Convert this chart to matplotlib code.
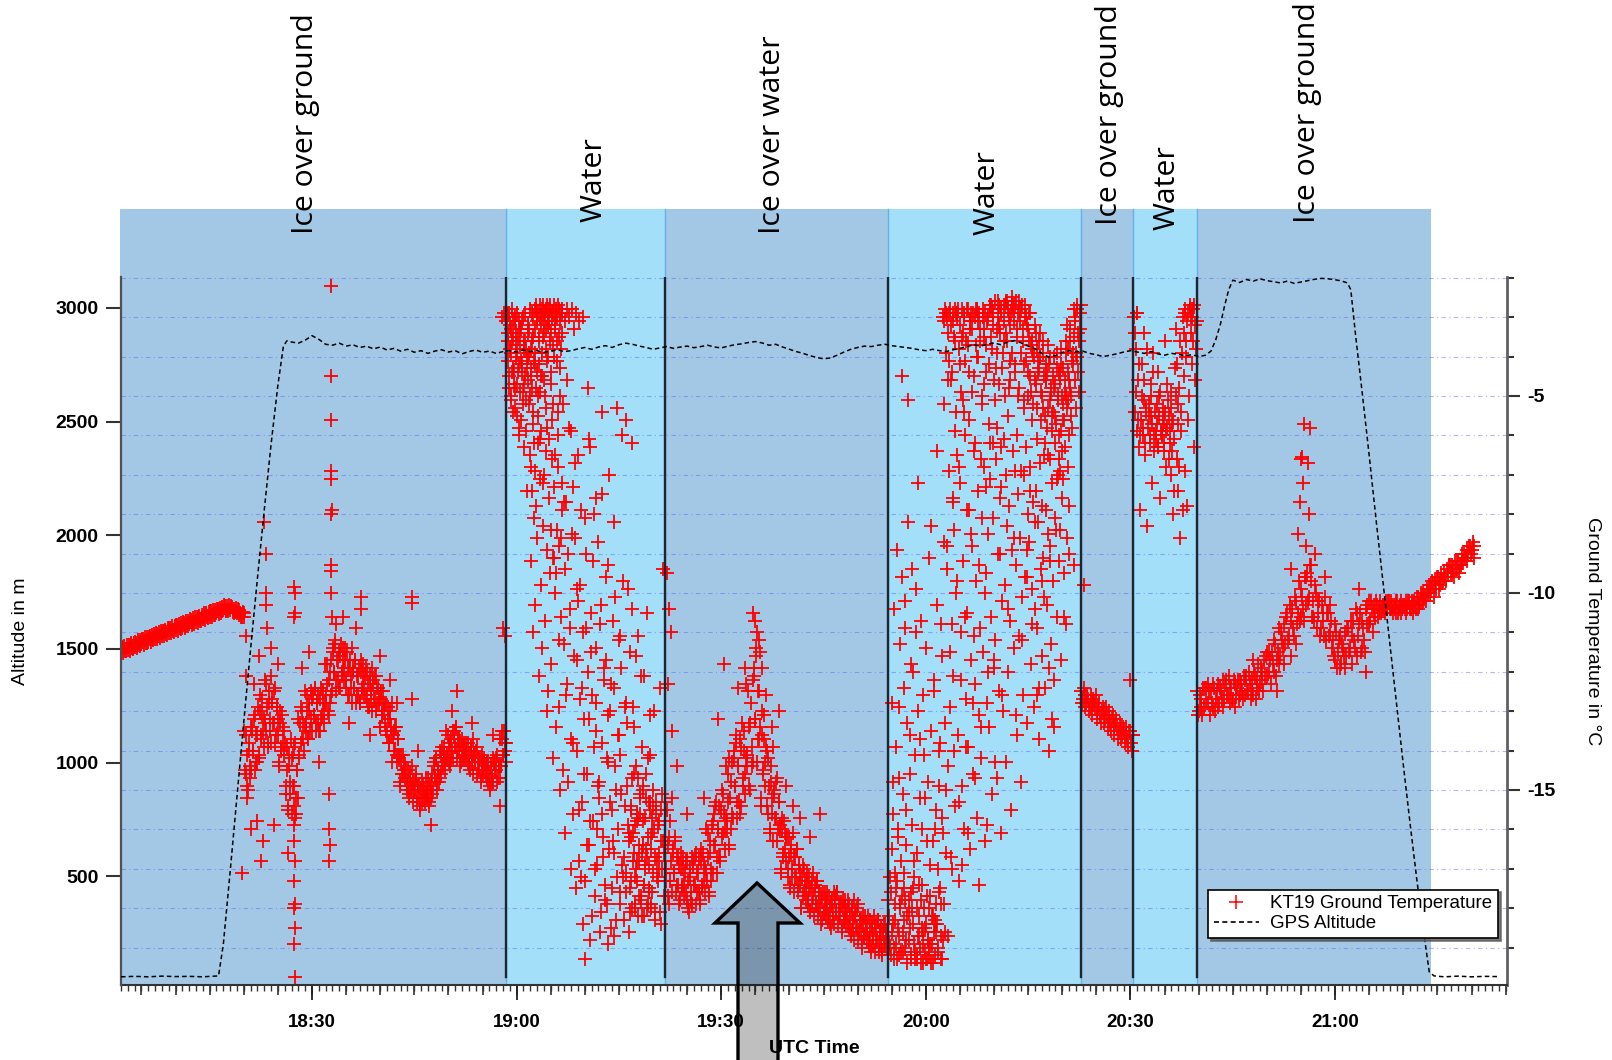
import numpy as np
import matplotlib
matplotlib.use("Agg")
import matplotlib.pyplot as plt
from matplotlib.patches import Rectangle, Polygon
from matplotlib.lines import Line2D
from matplotlib.ticker import MultipleLocator, FixedLocator, FuncFormatter
from matplotlib.transforms import blended_transform_factory

##############################################################################
# Data (time = minutes after 18:00 UTC)

x_limits = (2.0, 205.2)
alt_limits = (22, 3136)
temp_limits = (-19.95, -1.98)

surface_edges = [1.8, 58.5, 81.7, 114.4, 142.7, 150.4, 159.7, 194.1]
surface_names = ["Ice over ground", "Water", "Ice over water", "Water",
                 "Ice over ground", "Water", "Ice over ground"]

time_ticks = [30, 60, 90, 120, 150, 180]

# GPS altitude (m)
gps_time = [2, 4, 6, 8, 10, 12, 14, 16.3, 17, 18, 19, 20, 21, 22, 23, 24, 25, 25.8, 26.3] \
    + list(range(27, 162)) \
    + [161.8, 162.5, 163.2, 163.8, 164.4, 165, 166, 167, 168, 169, 170, 171, 172, 173, 174,
       175, 176, 177, 178, 179, 180, 181, 181.8, 182.3, 183, 184, 185, 186, 187, 188, 189,
       190, 191, 192, 193, 193.8, 194.5, 196, 198, 200, 202, 203.8]
gps_alt = [58, 60, 58, 61, 59, 60, 58, 62, 200, 520, 850, 1180, 1500, 1810, 2110, 2400, 2660, 2830, 2855,
           2850, 2845, 2858, 2878, 2862, 2840, 2836, 2845, 2832, 2838, 2826, 2832, 2820, 2828, 2815,
           2822, 2810, 2818, 2805, 2812, 2800, 2810, 2816, 2806, 2812, 2798, 2808, 2815, 2805, 2810,
           2800, 2808, 2812, 2806, 2815, 2808, 2812, 2804, 2810, 2816, 2808, 2812, 2820, 2826, 2818,
           2828, 2834, 2826, 2838, 2845, 2840, 2832, 2826, 2818, 2824, 2830, 2822, 2828, 2832, 2825,
           2830, 2836, 2828, 2824, 2832, 2838, 2842, 2848, 2852, 2846, 2836, 2840, 2828, 2818, 2808,
           2800, 2790, 2782, 2776, 2780, 2792, 2806, 2818, 2826, 2832, 2830, 2836, 2840, 2834, 2830,
           2826, 2822, 2816, 2812, 2818, 2812, 2808, 2816, 2822, 2830, 2838, 2832, 2840, 2846, 2838,
           2850, 2856, 2846, 2832, 2820, 2800, 2784, 2790, 2804, 2812, 2806, 2810, 2800, 2794, 2786,
           2792, 2798, 2806, 2812, 2806, 2800, 2808, 2798, 2792, 2800, 2796, 2790, 2794, 2786, 2792,
           2810, 2860, 2930, 3010, 3080, 3122, 3112, 3125, 3118, 3128, 3120, 3115, 3110, 3118, 3108,
           3114, 3120, 3126, 3130, 3128, 3124, 3118, 3110, 3080, 2880, 2620, 2350, 2070, 1800, 1530,
           1260, 990, 730, 480, 250, 80, 62, 58, 61, 58, 60, 59]

# KT19 ground temperature (deg C), regularly sampled within each span
ramp_span = (2.0, 20.0)
kt19_ramp = [-11.50, -11.40, -11.35, -11.48, -11.45, -11.33, -11.28, -11.42, -11.38, -11.26,
             -11.20, -11.35, -11.30, -11.18, -11.12, -11.27, -11.25, -11.10, -11.06, -11.20,
             -11.16, -11.03, -10.98, -11.13, -11.10, -10.96, -10.93, -11.06, -11.02, -10.88,
             -10.85, -10.99, -10.95, -10.82, -10.78, -10.92, -10.88, -10.75, -10.72, -10.85,
             -10.80, -10.68, -10.64, -10.78, -10.74, -10.61, -10.58, -10.70, -10.66, -10.54,
             -10.50, -10.63, -10.60, -10.47, -10.44, -10.56, -10.52, -10.41, -10.38, -10.47,
             -10.44, -10.33, -10.34, -10.45, -10.42, -10.36, -10.40, -10.49, -10.52, -10.44,
             -10.50, -10.60, -10.62]
ramp2_span = (2.1, 20.1)
kt19_ramp2 = [-11.36, -11.52, -11.47, -11.32, -11.31, -11.47, -11.40, -11.26, -11.24, -11.40,
              -11.32, -11.19, -11.16, -11.31, -11.26, -11.11, -11.11, -11.24, -11.18, -11.04,
              -11.02, -11.17, -11.10, -10.97, -10.96, -11.10, -11.05, -10.90, -10.88, -11.02,
              -10.97, -10.83, -10.81, -10.96, -10.90, -10.76, -10.74, -10.89, -10.84, -10.70,
              -10.66, -10.82, -10.76, -10.62, -10.60, -10.75, -10.70, -10.56, -10.52, -10.68,
              -10.62, -10.49, -10.46, -10.60, -10.56, -10.42, -10.40, -10.54, -10.50, -10.35,
              -10.30, -10.46, -10.44, -10.30, -10.32, -10.48, -10.52, -10.38, -10.40, -10.56,
              -10.62, -10.48, -10.52]

ground1_span = (20.1, 58.4)
kt19_ground1 = [
    -13.5, -14.6, -14.1, -15.0, -13.8, -14.4, -14.5, -13.4, -14.0, -13.1, -14.3, -13.6,
    -12.9, -14.1, -12.6, -13.6, -13.1, -13.9, -12.2, -13.5, -12.9, -13.9, -12.5, -13.2,
    -13.8, -12.7, -13.3, -12.4, -13.6, -12.9, -13.2, -14.3, -13.0, -13.9, -13.4, -14.1,
    -13.8, -15.1, -14.5, -15.5, -14.1, -14.8, -15.6, -14.1, -14.9, -13.8, -15.2, -14.5,
    -13.2, -14.1, -12.9, -13.7, -13.3, -14.0, -12.5, -13.5, -13.0, -13.7, -12.8, -13.2,
    -13.5, -12.6, -13.1, -12.4, -13.3, -12.8, -12.6, -13.5, -12.4, -13.1, -12.8, -13.3,
    -11.8, -12.8, -12.3, -13.1, -12.0, -12.6, -12.5, -11.4, -12.0, -11.2, -12.2, -11.7,
    -11.5, -12.4, -11.3, -12.0, -11.7, -12.2, -11.4, -12.4, -11.9, -12.6, -11.7, -12.1,
    -12.8, -11.9, -12.4, -11.7, -12.6, -12.1, -11.9, -12.8, -11.7, -12.4, -12.1, -12.6,
    -11.9, -12.7, -12.3, -12.9, -12.1, -12.5, -13.0, -12.2, -12.7, -12.1, -12.8, -12.4,
    -12.7, -13.4, -12.5, -13.1, -12.8, -13.3, -12.8, -13.6, -13.2, -13.8, -13.0, -13.4,
    -14.3, -13.5, -14.0, -13.4, -14.1, -13.7, -14.2, -14.8, -14.1, -14.6, -14.3, -14.7,
    -14.5, -15.0, -14.8, -15.2, -14.6, -14.9, -15.3, -14.8, -15.0, -14.6, -15.2, -14.9,
    -14.9, -15.4, -14.8, -15.2, -15.0, -15.3, -14.7, -15.2, -15.0, -15.4, -14.8, -15.1,
    -15.0, -14.3, -14.7, -14.2, -14.8, -14.5, -14.0, -14.6, -13.9, -14.4, -14.1, -14.5,
    -13.5, -14.2, -13.9, -14.4, -13.7, -14.0, -14.2, -13.5, -13.9, -13.4, -14.0, -13.7,
    -13.8, -14.3, -13.7, -14.1, -13.9, -14.2, -13.8, -14.3, -14.1, -14.5, -13.9, -14.2,
    -14.6, -14.1, -14.3, -13.9, -14.5, -14.2, -14.2, -14.7, -14.1, -14.5, -14.3, -14.6,
    -14.3, -14.8, -14.6, -15.0, -14.4, -14.7, -14.8, -14.3, -14.5, -14.1, -14.7, -14.4,
    -13.7, -14.4, -13.5, -14.1, -13.8, -14.3]
ground1b_span = (20.2, 58.5)
kt19_ground1b = [
    -14.5, -13.6, -14.9, -14.0, -14.7, -13.4, -13.5, -14.0, -13.2, -14.5, -13.6, -14.3,
    -14.2, -13.0, -13.7, -12.7, -13.5, -13.2, -13.3, -12.3, -13.8, -12.8, -13.5, -12.1,
    -12.8, -13.3, -12.5, -13.8, -12.9, -13.6, -14.4, -13.3, -14.0, -13.1, -13.8, -13.5,
    -14.9, -13.9, -15.4, -14.4, -15.1, -13.7, -14.2, -14.9, -13.9, -15.6, -14.5, -15.2,
    -14.2, -13.3, -13.8, -13.0, -13.7, -13.4, -13.3, -12.6, -13.7, -13.0, -13.5, -12.5,
    -12.7, -13.1, -12.4, -13.5, -12.8, -13.3, -13.5, -12.7, -13.2, -12.5, -13.0, -12.8,
    -12.6, -11.8, -13.0, -12.2, -12.8, -11.7, -11.5, -12.0, -11.3, -12.5, -11.7, -12.2,
    -12.4, -11.6, -12.1, -11.4, -11.9, -11.7, -12.2, -11.5, -12.6, -11.9, -12.4, -11.4,
    -12.0, -12.4, -11.7, -12.8, -12.1, -12.6, -12.8, -12.0, -12.5, -11.8, -12.3, -12.1,
    -12.6, -12.0, -12.9, -12.3, -12.7, -11.9, -12.3, -12.7, -12.1, -13.0, -12.4, -12.8,
    -13.4, -12.7, -13.1, -12.5, -13.0, -12.8, -13.5, -12.9, -13.8, -13.2, -13.6, -12.8,
    -13.6, -14.0, -13.4, -14.3, -13.7, -14.1, -14.9, -14.3, -14.6, -14.1, -14.5, -14.4,
    -14.9, -14.5, -15.1, -14.7, -15.0, -14.4, -14.8, -15.0, -14.7, -15.3, -14.9, -15.2,
    -15.5, -15.0, -15.3, -14.9, -15.2, -15.1, -15.1, -14.7, -15.3, -14.9, -15.2, -14.6,
    -14.4, -14.7, -14.2, -15.0, -14.5, -14.8, -14.7, -14.1, -14.4, -13.9, -14.3, -14.2,
    -14.1, -13.6, -14.3, -13.8, -14.2, -13.5, -13.6, -13.9, -13.4, -14.2, -13.7, -14.0,
    -14.4, -13.9, -14.2, -13.8, -14.1, -14.0, -14.2, -13.8, -14.4, -14.0, -14.3, -13.7,
    -14.1, -14.3, -14.0, -14.6, -14.2, -14.5, -14.8, -14.3, -14.6, -14.2, -14.5, -14.4,
    -14.7, -14.3, -14.9, -14.5, -14.8, -14.2, -14.3, -14.5, -14.2, -14.8, -14.4, -14.7,
    -14.4, -13.7, -14.1, -13.5, -14.0, -13.8]

water1a_span = (58.6, 66.6)
kt19_water1a = [
    -3.0, -4.1, -3.4, -4.8, -2.9, -3.8, -5.0, -3.3, -4.4, -3.6, -5.4, -3.1,
    -4.4, -3.1, -5.3, -3.7, -4.0, -2.9, -4.7, -3.5, -5.8, -4.2, -3.3, -4.9,
    -5.6, -3.3, -4.2, -3.0, -4.9, -3.8, -6.3, -4.5, -3.6, -5.1, -4.0, -7.4,
    -3.2, -4.6, -3.9, -5.2, -2.8, -4.3, -6.8, -3.6, -4.8, -3.0, -5.7, -4.1,
    -2.8, -3.9, -2.7, -4.8, -3.1, -5.5, -2.9, -4.2, -3.5, -6.1, -3.0, -4.5,
    -3.0, -4.5, -2.7, -7.2, -3.4, -2.9, -5.0, -3.8, -2.8, -4.1, -5.8, -3.2,
    -2.8, -6.1, -3.6, -2.7, -8.4, -4.4, -3.0, -5.6, -2.9, -4.0, -9.1, -3.3,
    -3.2, -2.8, -9.5, -4.1, -2.7, -6.8, -3.5, -11.2, -2.9, -5.0, -3.8, -7.9]
water1a2_span = (58.7, 66.7)
kt19_water1a2 = [
    -3.6, -2.9, -4.5, -3.2, -5.1, -3.9, -2.8, -4.3, -3.5, -4.7,
    -3.0, -4.8, -3.4, -5.5, -3.9, -4.4, -3.1, -6.0, -3.7, -4.1,
    -4.4, -3.1, -5.2, -3.6, -4.7, -2.9, -5.9, -3.8, -4.3, -3.4,
    -4.0, -3.3, -5.0, -3.8, -4.5, -2.9, -5.4, -3.5, -6.2, -4.2,
    -3.3, -2.8, -4.4, -3.0, -5.0, -3.6, -2.7, -4.9, -3.2, -3.9,
    -2.8, -3.5, -3.1, -4.6, -2.9, -5.3, -3.3, -2.7, -4.0, -3.0,
    -3.1, -2.8, -4.7, -3.4, -2.9, -5.2, -3.7, -2.7, -6.5, -3.0,
    -2.9, -3.6, -3.0, -5.4, -2.8, -4.3, -3.1, -8.6, -2.8, -3.4]

water1b_span = (66.7, 81.6)
kt19_water1b = [
    -2.9, -5.2, -7.7, -3.1, -12.6, -4.6, -2.8, -9.0,
    -3.0, -10.4, -5.9, -2.8, -13.8, -7.3, -3.3, -8.6,
    -2.9, -11.7, -6.5, -15.5, -3.1, -9.8, -17.2, -12.4,
    -3.0, -14.6, -8.1, -19.3, -10.9, -16.4, -4.8, -13.2,
    -6.3, -15.8, -11.5, -18.2, -9.2, -13.9, -17.0, -7.6,
    -12.8, -16.9, -8.7, -14.8, -18.6, -10.3, -15.6, -5.4,
    -16.2, -11.9, -17.8, -9.6, -14.2, -18.9, -13.1, -7.0,
    -15.3, -12.3, -17.5, -10.7, -16.6, -8.2, -14.4, -18.3,
    -5.3, -16.0, -13.6, -17.9, -11.1, -15.1, -6.0, -17.2,
    -16.7, -12.9, -5.6, -17.6, -14.9, -9.9, -16.3, -18.1,
    -15.5, -17.3, -6.2, -16.1, -13.4, -17.9, -11.6, -15.8,
    -16.8, -14.7, -17.7, -15.2, -12.1, -18.2, -16.4, -15.0,
    -17.4, -15.7, -16.5, -10.5, -17.9, -15.3, -16.9, -14.1,
    -16.2, -17.6, -15.4, -13.0, -18.1, -16.7, -15.6, -17.2,
    -15.9, -17.0, -12.4, -16.3, -18.4, -15.1, -9.4, -16.6]
water1c_span = (76.5, 81.6)
kt19_water1c = [
    -16.1, -17.5, -15.4, -18.0, -16.8, -14.6, -17.2, -15.9,
    -17.0, -15.6, -18.2, -16.4, -15.1, -17.7, -16.6, -14.9,
    -15.8, -17.4, -16.9, -15.2, -18.0, -16.2, -17.6, -15.5,
    -16.5, -17.9, -15.7, -17.1, -16.0, -18.3, -15.3, -16.8,
    -17.3, -15.8, -16.6, -18.1, -15.5, -17.0, -16.3, -17.7]
water1m_span = (62.0, 80.0)
kt19_water1m = [
    -6.5, -9.2, -7.4, -11.0, -8.1, -6.9, -10.3, -7.8,
    -8.6, -6.2, -12.1, -7.1, -9.8, -5.9, -11.4, -8.3,
    -7.0, -10.7, -6.4, -13.0, -8.9, -12.5, -7.6, -9.5,
    -11.8, -6.6, -9.1, -14.2, -7.3, -10.0, -13.4, -8.4,
    -6.0, -12.9, -8.8, -15.0, -10.6, -7.2, -14.5, -11.3,
    -9.4, -16.1, -7.7, -12.3, -14.8, -5.8, -10.9, -17.0,
    -13.7, -8.5, -15.6, -11.6, -6.7, -17.5, -9.9, -14.0,
    -10.2, -16.8, -12.7, -7.9, -15.3, -18.4, -11.0, -13.2,
    -17.3, -9.0, -14.6, -12.0, -16.4, -6.1, -18.8, -10.5,
    -12.6, -15.8, -8.0, -17.7, -13.5, -11.4, -16.0, -14.9,
    -15.2, -10.8, -18.1, -13.8, -7.5, -16.7, -12.2, -17.4,
    -11.7, -17.9, -14.3, -9.3, -16.5, -13.0, -18.5, -15.5,
    -16.3, -12.4, -18.7, -10.1, -15.0, -17.2, -13.6, -11.2,
    -14.1, -17.6, -11.9, -16.9, -9.7, -18.3, -15.4, -12.8,
    -17.1, -13.3, -15.9, -18.6, -11.5, -16.2, -14.7, -10.4,
    -12.9, -16.6, -18.0, -14.4, -17.3, -11.1, -15.7, -16.8,
    -15.6, -17.8, -13.9, -16.4, -18.2, -12.1, -17.0, -14.6,
    -16.7, -14.2, -17.5, -15.3, -13.1, -18.0, -16.1, -15.0]

icewater_span = (81.8, 114.3)
kt19_icewater = [
    -15.3, -17.3, -16.4, -17.9, -15.8, -16.8, -17.6, -16.5, -17.1, -16.2, -17.4, -16.7,
    -16.9, -17.8, -16.6, -17.4, -17.0, -17.7, -16.8, -17.8, -17.3, -18.1, -17.0, -17.6,
    -17.9, -16.8, -17.4, -16.6, -17.6, -17.1, -16.7, -17.8, -16.5, -17.4, -16.9, -17.6,
    -16.0, -17.3, -16.7, -17.7, -16.3, -17.0, -17.1, -15.6, -16.4, -15.3, -16.7, -16.0,
    -15.4, -16.7, -15.0, -16.1, -15.6, -16.5, -14.4, -16.0, -15.3, -16.5, -14.8, -15.6,
    -15.7, -14.0, -14.9, -13.6, -15.3, -14.4, -13.7, -15.4, -13.3, -14.7, -14.0, -15.1,
    -12.3, -14.4, -13.4, -15.0, -12.8, -13.9, -14.3, -11.9, -13.2, -11.4, -13.7, -12.5,
    -13.4, -15.2, -13.0, -14.5, -13.7, -14.9, -14.0, -15.6, -14.9, -16.1, -14.4, -15.2,
    -16.3, -15.0, -15.7, -14.7, -16.0, -15.3, -15.9, -17.0, -15.7, -16.6, -16.1, -16.8,
    -16.2, -17.2, -16.7, -17.5, -16.4, -17.0, -17.6, -16.7, -17.2, -16.5, -17.4, -16.9,
    -17.1, -18.0, -16.9, -17.6, -17.3, -17.8, -17.1, -17.9, -17.5, -18.1, -17.3, -17.7,
    -18.2, -17.4, -17.9, -17.3, -18.0, -17.6, -17.7, -18.3, -17.6, -18.1, -17.8, -18.2,
    -17.6, -18.3, -18.0, -18.5, -17.8, -18.1, -18.4, -17.7, -18.1, -17.6, -18.2, -17.9,
    -17.9, -18.5, -17.8, -18.3, -18.0, -18.4, -17.8, -18.5, -18.2, -18.7, -18.0, -18.3,
    -18.8, -18.1, -18.5, -17.9, -18.6, -18.3, -18.3, -18.9, -18.2, -18.7, -18.4, -18.8,
    -18.2, -18.9, -18.6, -19.1, -18.4, -18.7, -19.1, -18.4, -18.8, -18.3, -18.9, -18.6,
    -18.5, -19.1, -18.4, -18.9, -18.6, -19.0]
icewater2_span = (81.9, 114.4)
kt19_icewater2 = [
    -17.0, -15.5, -17.7, -16.2, -17.3, -15.2, -16.6, -17.1, -16.3, -17.6, -16.7, -17.4,
    -17.9, -17.0, -17.5, -16.7, -17.4, -17.1, -17.6, -16.8, -18.0, -17.2, -17.8, -16.7,
    -16.9, -17.4, -16.7, -17.9, -17.1, -17.6, -17.9, -16.8, -17.5, -16.6, -17.3, -17.0,
    -17.1, -16.1, -17.6, -16.6, -17.3, -15.9, -15.8, -16.4, -15.4, -17.1, -16.0, -16.7,
    -16.8, -15.5, -16.2, -15.1, -16.0, -15.7, -15.8, -14.6, -16.4, -15.2, -16.0, -14.3,
    -14.2, -14.9, -13.8, -15.7, -14.4, -15.3, -15.6, -13.9, -14.9, -13.5, -14.6, -14.2,
    -14.1, -12.5, -14.9, -13.3, -14.4, -12.2, -12.1, -13.2, -11.6, -14.3, -12.5, -13.7,
    -15.4, -13.6, -14.6, -13.1, -14.3, -13.9, -15.4, -14.2, -16.0, -14.8, -15.6, -13.9,
    -15.1, -15.7, -14.8, -16.3, -15.3, -16.0, -17.1, -16.0, -16.7, -15.8, -16.5, -16.2,
    -17.0, -16.2, -17.4, -16.6, -17.2, -16.1, -16.7, -17.2, -16.5, -17.6, -16.9, -17.4,
    -18.0, -17.2, -17.7, -17.0, -17.5, -17.3, -17.8, -17.2, -18.1, -17.5, -17.9, -17.1,
    -17.5, -17.9, -17.3, -18.2, -17.6, -18.0, -18.4, -17.8, -18.1, -17.6, -18.0, -17.9,
    -18.2, -17.7, -18.4, -17.9, -18.3, -17.6, -17.8, -18.1, -17.6, -18.4, -17.9, -18.2,
    -18.6, -18.0, -18.3, -17.8, -18.2, -18.1, -18.4, -17.9, -18.6, -18.1, -18.5, -17.8,
    -18.2, -18.5, -18.0, -18.8, -18.3, -18.6, -19.0, -18.4, -18.7, -18.2, -18.6, -18.5,
    -18.8, -18.3, -19.0, -18.5, -18.9, -18.2, -18.5, -18.8, -18.3, -19.1, -18.6, -18.9,
    -19.2, -18.6, -18.9, -18.4, -18.8, -18.7]

water2a_span = (114.5, 122.4)
kt19_water2a = [
    -17.8, -18.9, -17.2, -19.2, -16.5, -18.4, -14.8, -19.0,
    -18.3, -17.5, -19.3, -16.0, -18.7, -12.9, -17.9, -19.1,
    -4.5, -18.6, -17.1, -10.2, -19.0, -15.5, -18.2, -5.1,
    -18.8, -13.6, -19.3, -17.6, -9.4, -18.4, -16.8, -19.1,
    -11.0, -19.2, -18.0, -7.2, -18.7, -15.2, -19.4, -17.4,
    -18.9, -19.4, -14.1, -18.5, -19.3, -16.3, -18.8, -19.0,
    -19.2, -17.7, -8.3, -18.9, -19.4, -12.5, -18.3, -16.0,
    -18.6, -6.4, -19.1, -14.9, -17.5, -10.8, -19.3, -15.7]
water2c_span = (114.6, 122.5)
kt19_water2c = [
    -18.2, -19.0, -17.6, -18.6, -19.3, -17.9,
    -18.9, -17.3, -18.5, -19.2, -18.0, -17.7,
    -19.1, -18.3, -17.8, -18.8, -19.4, -18.1,
    -18.5, -19.2, -18.0, -17.5, -18.9, -19.3,
    -19.3, -18.7, -18.2, -19.0, -17.8, -18.5,
    -18.6, -19.1, -18.4, -19.3, -18.8, -18.0,
    -18.9, -19.4, -18.2, -18.6, -19.2, -17.9,
    -18.4, -19.0, -17.6, -18.7, -19.3, -18.8]

water2b_span = (122.5, 142.6)
kt19_water2b = [
    -3.0, -17.9, -5.2, -13.3, -2.9, -16.6, -8.8, -18.7, -3.4, -4.1,
    -2.8, -11.5, -4.6, -17.0, -3.1, -7.6, -14.0, -5.9, -3.6, -2.9,
    -3.0, -9.7, -2.8, -15.3, -6.8, -4.2, -12.2, -16.9, -3.5, -5.1,
    -2.9, -5.4, -10.6, -3.6, -13.9, -7.9, -2.8, -16.1, -4.4, -3.3,
    -3.1, -8.5, -4.9, -12.8, -2.9, -11.1, -6.2, -14.7, -3.7, -2.8,
    -2.8, -4.0, -9.3, -17.4, -3.3, -6.6, -13.4, -5.0, -3.0, -4.7,
    -3.5, -10.0, -4.4, -7.3, -15.9, -3.0, -12.0, -5.7, -2.8, -6.2,
    -2.7, -3.8, -8.1, -2.9, -11.7, -5.1, -14.3, -4.3, -3.3, -5.8,
    -2.6, -4.7, -3.2, -9.0, -2.8, -6.3, -12.6, -3.9, -3.6, -2.7,
    -2.7, -3.4, -7.0, -2.6, -5.5, -10.4, -3.0, -4.6, -4.1, -2.9,
    -2.5, -3.9, -2.8, -8.6, -4.2, -2.7, -13.1, -6.0, -3.3, -5.0,
    -2.6, -4.8, -3.1, -6.9, -2.8, -11.2, -3.6, -5.3, -4.2, -2.7,
    -3.0, -4.1, -9.6, -3.3, -5.0, -2.9, -7.4, -4.5, -3.7, -5.6,
    -3.6, -5.2, -4.0, -8.2, -3.2, -4.7, -6.1, -3.8, -4.4, -12.4,
    -4.3, -3.4, -5.6, -4.9, -7.8, -3.9, -5.3, -10.1, -6.2, -4.6,
    -4.6, -5.8, -3.7, -6.5, -4.2, -5.1, -9.2, -4.8, -13.2, -5.5,
    -5.4, -4.0, -6.2, -4.7, -5.7, -3.9, -7.1, -5.0, -4.4, -6.6,
    -4.5, -5.9, -3.8, -6.4, -5.2, -4.3, -5.6, -4.9, -5.0, -3.6,
    -3.2, -5.1, -4.4, -6.0, -3.6, -4.8, -5.5, -4.1, -5.8, -3.9,
    -2.8, -4.6, -3.0, -5.3, -2.7, -4.0, -3.4, -4.9, -3.6, -2.9]
water2d_span = (122.6, 142.7)
kt19_water2d = [
    -3.1, -2.8, -3.9, -3.0, -4.6, -2.9, -3.2, -4.4, -2.9, -3.5, -2.8, -5.4,
    -2.9, -3.8, -3.2, -4.9, -2.8, -3.4, -3.0, -4.1, -2.8, -3.7, -5.6, -3.1,
    -2.9, -3.3, -4.5, -3.0, -2.8, -4.0, -3.1, -2.9, -3.6, -5.2, -2.8, -3.3,
    -2.9, -3.7, -3.1, -4.2, -2.7, -3.5, -2.8, -3.2, -4.6, -2.6, -3.9, -3.0,
    -2.7, -3.4, -2.9, -4.3, -3.1, -5.0, -2.6, -3.6, -2.8, -4.8, -3.2, -2.7,
    -2.7, -3.1, -4.4, -2.6, -3.5, -2.9, -2.8, -3.9, -2.7, -3.3, -5.1, -3.0,
    -3.2, -4.4, -3.5, -2.9, -4.9, -3.8, -3.9, -4.6, -3.4, -5.3, -4.1, -3.6,
    -4.0, -5.0, -3.6, -4.5, -5.5, -4.2, -4.4, -5.3, -4.0, -4.9, -5.9, -4.5,
    -4.8, -5.5, -4.3, -5.1, -6.0, -4.6, -4.2, -5.0, -5.6, -4.6, -3.9, -5.3,
    -3.8, -4.6, -3.3, -5.0, -4.2, -3.5, -3.1, -3.9, -2.8, -4.4, -3.3, -2.7]
water2m_span = (115.0, 141.0)
kt19_water2m = [
    -12.8, -15.6, -10.4, -17.1, -13.9, -8.9, -16.2,
    -14.7, -11.3, -16.8, -9.6, -15.1, -12.4, -17.5,
    -10.9, -16.4, -13.3, -8.2, -17.8, -14.6, -11.8,
    -15.9, -12.0, -17.2, -14.1, -9.9, -16.6, -13.0,
    -17.4, -13.7, -10.7, -16.0, -12.6, -18.0, -15.2,
    -11.4, -17.7, -14.8, -9.1, -16.9, -13.5, -18.2,
    -16.3, -12.2, -18.4, -15.5, -10.3, -17.0, -14.0,
    -13.8, -17.9, -11.6, -16.1, -8.7, -18.6, -15.0,
    -9.4, -14.4, -6.9, -12.9, -16.7, -10.8, -7.7,
    -12.1, -8.4, -15.4, -10.0, -6.5, -13.6, -17.3,
    -7.2, -11.0, -14.9, -9.2, -16.0, -6.0, -12.7,
    -10.5, -13.9, -7.9, -16.5, -11.7, -8.8, -14.6,
    -6.4, -12.3, -9.7, -15.7, -7.4, -13.1, -10.9,
    -14.2, -8.1, -11.5, -6.8, -16.3, -9.5, -12.8,
    -8.5, -13.4, -7.1, -10.6, -15.1, -6.2, -11.9,
    -11.2, -6.6, -14.7, -9.0, -12.5, -7.6, -16.1,
    -7.3, -10.2, -13.0, -6.1, -9.8, -14.3, -8.3,
    -12.0, -7.8, -10.7, -15.5, -8.9, -6.4, -11.4,
    -6.9, -9.3, -13.6, -7.5, -11.1, -8.6, -14.8,
    -10.1, -12.6, -7.0, -9.6, -6.3, -13.3, -8.0,
    -8.7, -6.8, -11.8, -9.9, -7.7, -12.9, -10.4,
    -7.4, -10.9, -8.2, -13.7, -6.7, -9.4, -11.6,
    -9.1, -6.5, -12.4, -7.9, -10.3, -8.5, -14.0,
    -6.6, -8.8, -11.3, -7.2, -9.7, -12.2, -8.1,
    -8.4, -10.6, -7.0, -9.2, -6.9, -11.7, -7.6,
    -7.1, -9.5, -6.3, -10.8, -8.6, -6.8, -9.0]

ground2_span = (142.8, 150.3)
kt19_ground2 = [-12.5, -12.7, -12.6, -12.8, -12.7, -12.9, -12.8, -12.7, -12.9, -13.0, -12.9,
                -13.1, -13.0, -13.0, -13.2, -13.1, -13.2, -13.3, -13.2, -13.4, -13.3, -13.4,
                -13.5, -13.4, -13.6, -13.5, -13.6, -13.7, -13.5, -13.8, -13.6]
ground2b_span = (142.9, 150.4)
kt19_ground2b = [-12.8, -12.4, -12.9, -12.6, -13.0, -12.6, -13.1, -12.8, -12.6, -13.2, -12.8,
                 -13.3, -12.9, -13.3, -12.9, -13.4, -13.0, -13.5, -13.1, -13.6, -13.2, -13.7,
                 -13.3, -13.7, -13.4, -13.8, -13.4, -13.9, -13.5, -14.0, -13.6]

water3_span = (150.5, 159.6)
kt19_water3 = [
    -3.0, -5.4, -3.8, -5.9, -2.9, -4.6, -6.3, -7.9,
    -5.6, -4.2, -6.0, -5.1, -3.4, -6.5, -5.3, -8.3,
    -5.8, -5.2, -6.2, -4.7, -5.5, -7.2, -3.9, -6.0,
    -5.4, -6.1, -5.7, -4.4, -6.3, -5.0, -7.6, -5.9,
    -6.0, -5.3, -6.4, -5.6, -3.6, -6.8, -5.8, -5.1,
    -5.5, -6.2, -4.9, -7.0, -5.7, -8.0, -6.1, -4.3,
    -3.3, -6.6, -5.2, -7.4, -4.8, -8.6, -5.9, -3.9,
    -3.0, -4.5, -2.8, -6.9, -3.6, -7.8, -2.9, -5.0,
    -2.7, -3.4, -3.0, -4.2, -2.8, -6.3, -3.2, -3.8]
water3b_span = (150.6, 159.7)
kt19_water3b = [
    -3.4, -4.9, -2.9, -5.6, -4.2, -6.0,
    -5.0, -5.8, -4.6, -6.2, -5.4, -3.8,
    -5.5, -6.0, -5.0, -5.7, -4.4, -6.4,
    -5.9, -5.2, -6.3, -5.5, -4.9, -6.0,
    -5.7, -6.2, -5.4, -5.9, -4.7, -6.6,
    -5.9, -5.3, -6.4, -5.6, -7.4, -5.0,
    -4.2, -5.7, -6.8, -3.6, -5.4, -7.9,
    -3.4, -2.9, -4.0, -3.1, -5.6, -2.8,
    -3.0, -2.8, -3.6, -2.7, -4.6, -3.1]

ground3_span = (159.8, 200.3)
kt19_ground3 = [
    -12.5, -13.0, -12.7, -13.1, -12.9, -12.4, -12.8, -12.5, -12.5, -12.9, -12.4, -12.7,
    -12.3, -12.8, -12.5, -12.9, -12.7, -12.2, -12.6, -12.4, -12.4, -12.7, -12.3, -12.6,
    -12.2, -12.6, -12.3, -12.7, -12.6, -12.1, -12.5, -12.3, -12.2, -12.6, -12.1, -12.4,
    -11.8, -12.3, -12.0, -12.5, -12.1, -11.5, -12.0, -11.7, -11.5, -12.0, -11.3, -11.7,
    -10.9, -11.6, -11.2, -11.8, -11.3, -10.5, -11.1, -10.7, -10.4, -11.1, -10.2, -10.8,
    -9.7, -10.6, -10.1, -10.7, -10.3, -9.5, -10.1, -9.7, -10.2, -10.7, -10.0, -10.5,
    -10.2, -10.9, -10.5, -11.1, -11.2, -10.5, -11.0, -10.7, -11.2, -11.7, -11.0, -11.5,
    -11.1, -11.8, -11.4, -11.9, -11.6, -10.9, -11.4, -11.1, -10.7, -11.4, -10.5, -11.1,
    -10.5, -11.4, -10.9, -11.5, -10.8, -10.2, -10.7, -10.4, -10.3, -10.6, -10.3, -10.5,
    -10.2, -10.4, -10.3, -10.5, -10.4, -10.2, -10.4, -10.3, -10.3, -10.5, -10.2, -10.4,
    -10.2, -10.4, -10.3, -10.5, -10.4, -10.2, -10.4, -10.3, -10.2, -10.4, -10.1, -10.3,
    -10.0, -10.2, -10.1, -10.2, -10.0, -9.8, -9.9, -9.8, -9.7, -9.9, -9.6, -9.8,
    -9.5, -9.7, -9.6, -9.7, -9.5, -9.3, -9.5, -9.4, -9.2, -9.4, -9.2, -9.3,
    -9.0, -9.2, -9.1, -9.2, -9.0, -8.8, -8.9, -8.8]
ground3b_span = (159.9, 200.4)
kt19_ground3b = [
    -13.1, -12.6, -12.9, -12.4, -12.4, -12.8, -12.3, -13.1, -12.8, -12.3, -13.0, -12.5,
    -12.9, -12.4, -12.7, -12.2, -12.3, -12.6, -12.1, -12.8, -12.7, -12.2, -12.9, -12.4,
    -12.7, -12.2, -12.5, -12.1, -12.2, -12.5, -12.0, -12.7, -12.5, -12.0, -12.7, -12.2,
    -12.5, -11.9, -12.2, -11.7, -11.6, -12.1, -11.5, -12.3, -11.8, -11.2, -12.1, -11.5,
    -11.8, -11.0, -11.4, -10.8, -10.6, -11.2, -10.3, -11.6, -10.9, -10.1, -11.3, -10.5,
    -10.7, -9.9, -10.4, -9.6, -9.6, -10.2, -9.3, -10.6, -10.6, -9.8, -10.9, -10.2,
    -11.1, -10.3, -10.7, -10.1, -10.5, -11.1, -10.3, -11.4, -11.6, -10.8, -11.9, -11.2,
    -11.9, -11.3, -11.6, -11.0, -10.9, -11.5, -10.7, -11.8, -11.2, -10.4, -11.6, -10.8,
    -11.5, -10.7, -11.2, -10.4, -10.3, -10.8, -10.2, -11.0, -10.5, -10.2, -10.6, -10.4,
    -10.5, -10.3, -10.4, -10.2, -10.2, -10.4, -10.2, -10.5, -10.4, -10.2, -10.5, -10.3,
    -10.5, -10.3, -10.4, -10.2, -10.2, -10.4, -10.2, -10.5, -10.3, -10.1, -10.4, -10.2,
    -10.2, -10.0, -10.1, -9.9, -9.8, -10.0, -9.7, -10.1, -9.8, -9.6, -9.9, -9.7,
    -9.7, -9.5, -9.6, -9.4, -9.3, -9.5, -9.3, -9.6, -9.4, -9.2, -9.5, -9.3,
    -9.2, -9.0, -9.1, -8.9, -8.8, -9.0, -8.7, -9.1]

# isolated KT19 samples away from the main clouds
kt19_extra_time = [19.7, 20.3, 20.3, 20.5, 21.0, 21.5, 22.0, 22.2, 22.5, 22.8, 23.0, 23.2, 23.2, 23.2,
                   23.4, 24.0, 24.5, 25.0, 26.5, 27.4, 27.5, 27.5, 27.4, 27.4, 27.5, 27.3, 27.4,
                   27.5, 27.4, 27.5, 27.4, 27.5, 27.4, 27.5, 28.5, 29.5, 31.0, 32.8, 32.8, 32.8,
                   32.8, 32.8, 32.9, 32.8, 32.8, 32.8, 32.8, 32.9, 32.5, 32.5, 32.6, 32.5, 33.5,
                   34.5, 35.5, 36.5, 37.2, 37.2, 38.5, 40.0, 41.5, 42.5, 44.6, 44.6, 44.6, 45.5,
                   47.5, 50.5, 51.2, 53.5, 56.5, 57.5, 57.8, 58.2, 58.4, 58.0, 58.3,
                   82.0, 82.3, 82.6, 82.2, 82.8, 83.5, 85.0, 87.5, 89.5, 90.4, 91.2, 92.5, 93.5,
                   94.6, 94.9, 95.2, 95.5, 95.7, 96.0, 96.5, 97.5, 98.5, 99.5, 100.5, 101.5,
                   103.0, 104.5,
                   134.8, 135.6, 136.3, 137.1, 138.0, 138.8, 139.6, 140.3, 141.0, 141.7,
                   143.2, 149.9,
                   168.0, 171.5, 173.5, 174.6, 174.8, 175.0, 175.2, 175.3, 175.5, 175.7, 176.0,
                   176.2, 176.3, 176.5, 177.0, 178.5, 183.5, 184.5]
kt19_extra_temp = [-17.1, -11.1, -12.1, -15.2, -16.0, -12.3, -15.8, -11.6, -16.8, -16.3, -8.2, -9.0,
                   -10.0, -10.3, -10.9, -11.4, -15.9, -11.8, -16.6, -9.85, -10.0, -10.5, -10.6,
                   -15.4, -15.7, -15.9, -16.3, -16.8, -17.3, -17.9, -18.0, -18.5, -18.9, -19.75,
                   -11.9, -11.5, -14.3, -2.2, -4.5, -5.6, -6.9, -7.1, -7.9, -8.0, -9.3, -9.45,
                   -10.0, -10.6, -15.1, -16.0, -16.4, -16.8, -10.8, -10.6, -13.3, -10.9, -10.1,
                   -10.4, -13.6, -11.6, -12.2, -12.8, -10.1, -10.25, -12.7, -14.0, -15.9, -13.0,
                   -12.5, -13.3, -13.6, -15.4, -3.0, -2.9, -3.1, -10.9, -11.1,
                   -9.5, -10.4, -11.0, -12.3, -13.5, -14.4, -15.6, -15.2, -13.2, -11.8, -14.2,
                   -12.4, -11.9, -10.5, -10.7, -11.0, -11.2, -11.5, -11.9, -12.6, -13.4, -13.0,
                   -14.9, -15.4, -15.7, -16.2, -15.6,
                   -8.9, -10.8, -12.6, -9.7, -11.9, -13.4, -8.4, -10.6, -7.8, -9.3,
                   -9.8, -12.2,
                   -11.7, -12.5, -9.4, -8.5, -7.7, -6.6, -6.55, -7.2, -5.7, -8.8, -6.7,
                   -8.0, -5.8, -9.3, -9.0, -9.6, -9.9, -12.0]

kt19_segments = [(ramp_span, kt19_ramp), (ramp2_span, kt19_ramp2),
                 (ground1_span, kt19_ground1), (ground1b_span, kt19_ground1b),
                 (water1a_span, kt19_water1a), (water1a2_span, kt19_water1a2),
                 (water1b_span, kt19_water1b), (water1c_span, kt19_water1c),
                 (water1m_span, kt19_water1m),
                 (icewater_span, kt19_icewater), (icewater2_span, kt19_icewater2),
                 (water2a_span, kt19_water2a), (water2c_span, kt19_water2c),
                 (water2b_span, kt19_water2b), (water2d_span, kt19_water2d),
                 (water2m_span, kt19_water2m),
                 (ground2_span, kt19_ground2), (ground2b_span, kt19_ground2b),
                 (water3_span, kt19_water3), (water3b_span, kt19_water3b),
                 (ground3_span, kt19_ground3), (ground3b_span, kt19_ground3b)]

##############################################################################

plt.rcParams['font.family'] = ['Liberation Sans', 'DejaVu Sans']
plt.rcParams['font.weight'] = 'bold'
plt.rcParams['axes.unicode_minus'] = False

W, H = 1612, 1060
fig = plt.figure(figsize=(W / 100, H / 100), dpi=100)
axT = fig.add_axes([121 / W, 75 / H, 1386 / W, 708 / H])
axA = axT.twinx()

axT.yaxis.tick_right()
axT.yaxis.set_label_position('right')
axA.yaxis.tick_left()
axA.yaxis.set_label_position('left')

axT.set_xlim(*x_limits)
axT.set_ylim(*temp_limits)
axA.set_ylim(*alt_limits)

ice_color = '#a3c8e6'
water_color = '#a3dff8'

# surface class bands, reaching above the plot frame
band_tr = blended_transform_factory(axT.transData, axT.transAxes)
band_top = 1.096
for i, name in enumerate(surface_names):
    x0, x1 = surface_edges[i], surface_edges[i + 1]
    col = water_color if name == 'Water' else ice_color
    axT.add_patch(Rectangle((x0, 0), x1 - x0, band_top, transform=band_tr, facecolor=col,
                            edgecolor='none', clip_on=False, zorder=0.1))
for x in surface_edges[1:-1]:
    axT.plot([x, x], [0.0, band_top], transform=band_tr, color='#62b2e6', lw=1.0,
             clip_on=False, zorder=0.3)
    axT.plot([x, x], [0.012, 1.0], transform=band_tr, color='#1c2630', lw=1.7, zorder=3)

# band titles
label_pos = [(305, 234), (594, 222), (772, 234), (987, 235), (1110, 225), (1167, 230), (1307, 223)]
for name, (px, py) in zip(surface_names, label_pos):
    fig.text(px / W, 1 - py / H, name, rotation=90, ha='center', va='bottom',
             fontsize=21.8, fontweight='normal', family='Open Sans', color='black')

# grid from the temperature axis
axT.set_axisbelow(True)
axT.yaxis.grid(True, which='both', color='#5a5af0', lw=0.8, alpha=0.45, ls=(0, (4, 3, 1, 3)))

# KT19 samples
for span, vals in kt19_segments:
    t = np.linspace(span[0], span[1], len(vals))
    axT.plot(t, vals, ls='none', marker='+', color='red', ms=10.5, mew=1.3, zorder=2)
axT.plot(kt19_extra_time, kt19_extra_temp, ls='none', marker='+', color='red', ms=10.5, mew=1.3, zorder=2)

# GPS altitude
axA.plot(gps_time, gps_alt, color='black', lw=1.1, ls=(0, (3, 2)), zorder=4)

# axes styling
for s in ['top', 'left']:
    axT.spines[s].set_visible(False)
for s in ['top', 'right', 'bottom']:
    axA.spines[s].set_visible(False)
axT.spines['right'].set_color('#606060')
axT.spines['right'].set_linewidth(2.0)
axT.spines['bottom'].set_color('#333333')
axT.spines['bottom'].set_linewidth(1.5)
axA.spines['left'].set_color('#505050')
axA.spines['left'].set_linewidth(1.6)

axT.xaxis.set_major_locator(FixedLocator(time_ticks))
axT.xaxis.set_major_formatter(FuncFormatter(lambda v, p: f"{18 + int(v) // 60}:{int(v) % 60:02d}"))
axT.xaxis.set_minor_locator(MultipleLocator(1))
axT.tick_params(axis='x', which='major', length=11, width=1.3, pad=10, labelsize=13.5, color='#222222')
axT.tick_params(axis='x', which='minor', length=4.5, width=1.0, color='#333333')
sec = axT.secondary_xaxis('bottom')
sec.xaxis.set_major_locator(MultipleLocator(5))
sec.tick_params(length=7, width=1.1, labelbottom=False, color='#222222')
sec.spines['bottom'].set_visible(False)

axT.yaxis.set_major_locator(MultipleLocator(5))
axT.yaxis.set_minor_locator(MultipleLocator(1))
axT.tick_params(axis='y', which='major', length=9.5, width=1.5, pad=5, labelsize=14, color='#333333')
axT.tick_params(axis='y', which='minor', length=5, width=1.5, color='#333333')

axA.yaxis.set_major_locator(MultipleLocator(500))
axA.tick_params(axis='y', which='major', length=11, width=1.5, pad=5, labelsize=14, color='#333333')

axA.set_ylabel('Altitude in m', fontsize=14, fontweight='normal', va='center')
axA.yaxis.set_label_coords(-0.0722, 0.5)
axT.set_ylabel('Ground Temperature in °C', fontsize=14, fontweight='normal', rotation=-90, va='center')
axT.yaxis.set_label_coords(1.062, 0.5)
axT.set_xlabel('UTC Time', fontsize=14, fontweight='bold', va='center')
axT.xaxis.set_label_coords(0.5, -0.089)

# legend
handles = [Line2D([], [], ls='none', marker='+', color='red', ms=10, mew=1.1),
           Line2D([], [], color='black', lw=1.2, ls=(0, (3, 2)))]
leg = axA.legend(handles, ['KT19 Ground Temperature', 'GPS Altitude'], loc='lower right',
                 bbox_to_anchor=(0.9935, 0.0664), borderaxespad=0, fancybox=False,
                 edgecolor='black', framealpha=1, prop={'size': 13.5, 'weight': 'normal'},
                 handlelength=2.4, handletextpad=0.6, borderpad=0.3, labelspacing=0.15,
                 shadow={'color': '0.35', 'alpha': 0.8})
leg.get_frame().set_linewidth(1.2)
leg.set_zorder(10)

# block arrow marking the ice-over-water peak
arrow_px = [(757, 883), (800, 923), (778, 923), (778, 1075), (738, 1075), (738, 923), (715, 923)]
arrow = Polygon([(x / W, (H - y) / H) for x, y in arrow_px], closed=True, transform=fig.transFigure,
                facecolor=(0, 0, 0, 0.25), edgecolor='black', lw=2.4, joinstyle='miter', zorder=20)
fig.add_artist(arrow)

fig.savefig('out.png', dpi=100)
